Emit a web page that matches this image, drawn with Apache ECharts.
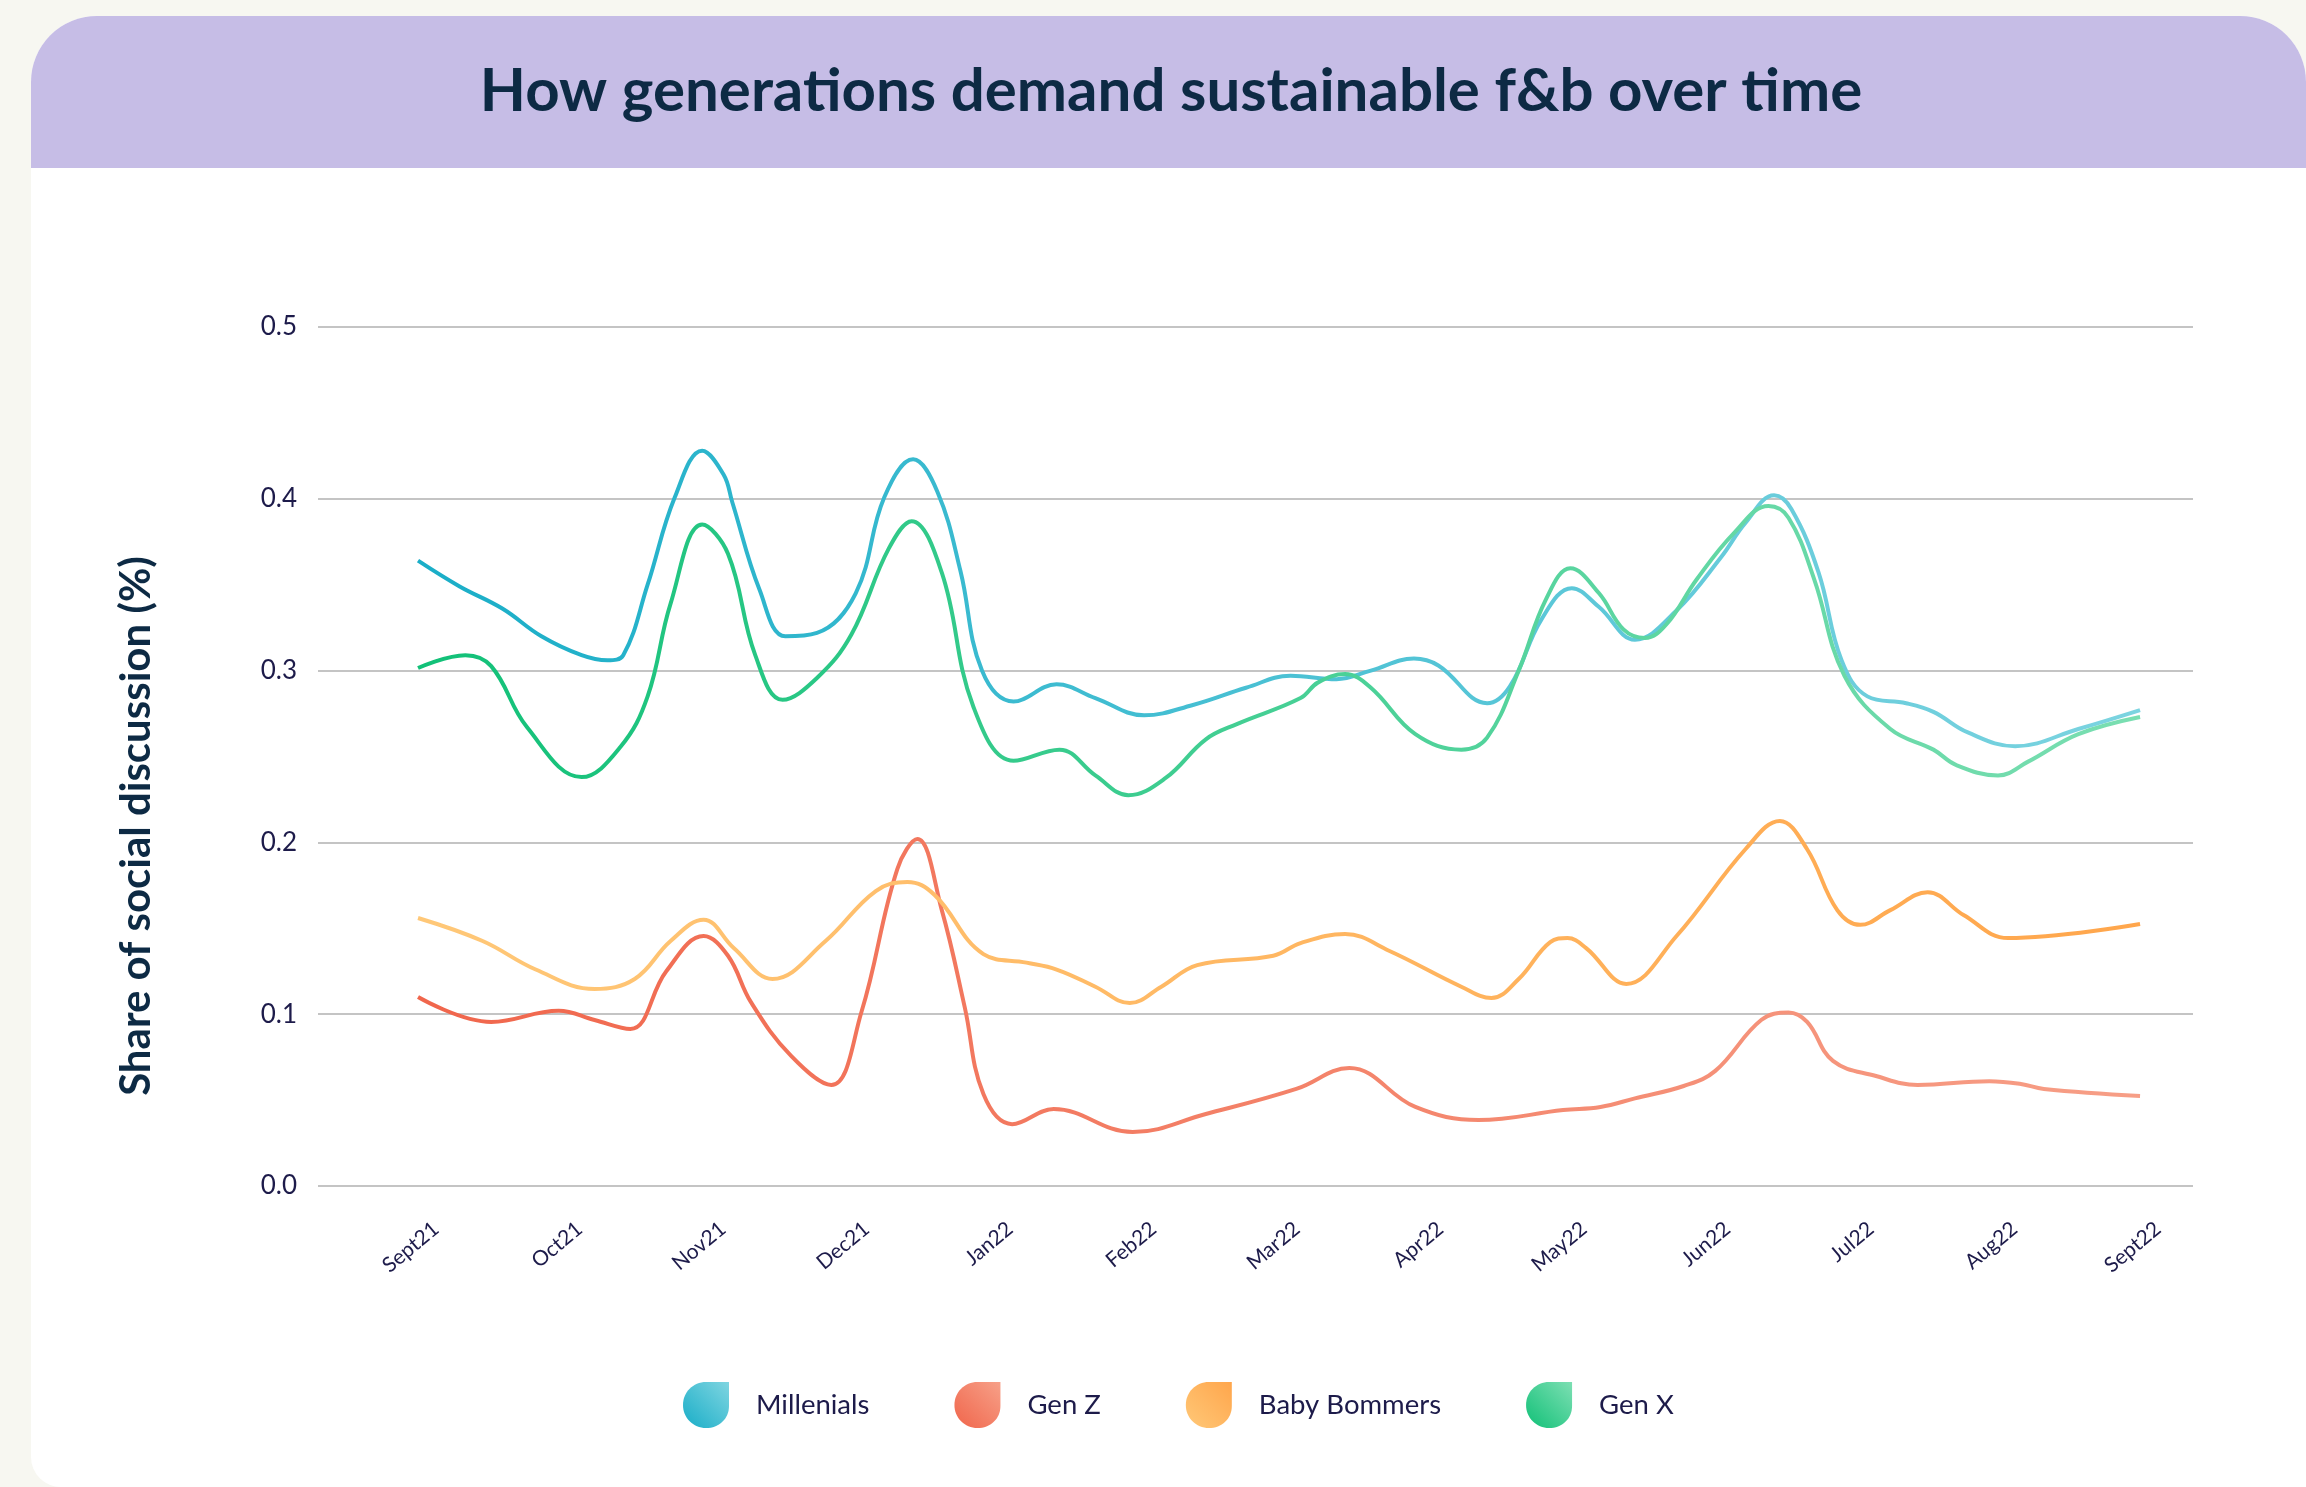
<!DOCTYPE html>
<html>
<head>
<meta charset="utf-8">
<title>How generations demand sustainable f&amp;b over time</title>
<script src="https://cdn.jsdelivr.net/npm/echarts@6/dist/echarts.min.js"></script>
<style>
    html, body { margin: 0; padding: 0; background: #f7f7f1; }
    #chart { width: 2306px; height: 1487px; }
</style>
</head>
<body>
<div id="chart"></div>
<script>
// x position of a point is in months from Sept21 (0) to Sept22 (12)
const months = ['Sept21', 'Oct21', 'Nov21', 'Dec21', 'Jan22', 'Feb22', 'Mar22',
    'Apr22', 'May22', 'Jun22', 'Jul22', 'Aug22', 'Sept22'];
const seriesNames = ['Millenials', 'Gen Z', 'Baby Bommers', 'Gen X'];

const millenials = [[0, 0.364], [0.29, 0.349], [0.59, 0.336], [0.86, 0.320], [1.14, 0.309],
    [1.32, 0.306], [1.43, 0.309], [1.60, 0.350], [1.79, 0.401], [1.98, 0.428], [2.13, 0.414],
    [2.19, 0.398], [2.38, 0.347], [2.56, 0.320], [2.78, 0.322], [3.05, 0.345], [3.25, 0.401],
    [3.45, 0.423], [3.62, 0.404], [3.78, 0.358], [3.93, 0.300], [4.15, 0.282], [4.45, 0.292],
    [4.72, 0.284], [5.06, 0.274], [5.40, 0.280], [5.77, 0.290], [6.08, 0.297], [6.40, 0.295],
    [6.64, 0.300], [6.94, 0.307], [7.11, 0.303], [7.45, 0.281], [7.61, 0.291], [7.83, 0.330],
    [8.04, 0.348], [8.23, 0.337], [8.48, 0.318], [8.77, 0.335], [9.08, 0.366], [9.25, 0.386],
    [9.45, 0.402], [9.57, 0.394], [9.76, 0.357], [9.92, 0.306], [10.10, 0.285], [10.37, 0.281],
    [10.56, 0.276], [10.80, 0.264], [11.13, 0.256], [11.57, 0.266], [12, 0.277]];

const genZ = [[0, 0.110], [0.51, 0.0955], [0.98, 0.102], [1.23, 0.0966], [1.48, 0.0914],
    [1.73, 0.125], [1.99, 0.1455], [2.16, 0.134], [2.32, 0.107], [2.60, 0.0757], [2.88, 0.0588],
    [3.09, 0.1013], [3.34, 0.1845], [3.48, 0.202], [3.65, 0.1606], [3.81, 0.104], [3.94, 0.0535],
    [4.14, 0.036], [4.43, 0.0448], [4.98, 0.0314], [5.49, 0.0419], [6.12, 0.0565], [6.49, 0.0687],
    [6.95, 0.046], [7.39, 0.0384], [7.98, 0.0442], [8.24, 0.046], [8.48, 0.051], [8.82, 0.0582],
    [9.04, 0.067], [9.36, 0.0966], [9.55, 0.101], [9.68, 0.0955], [9.86, 0.0728], [10.16, 0.064],
    [10.45, 0.0588], [10.95, 0.061], [11.17, 0.0594], [11.33, 0.0565], [12, 0.0524]];

const babyBommers = [[0, 0.156], [0.45, 0.1426], [0.82, 0.126], [1.23, 0.1147], [1.51, 0.1205],
    [1.76, 0.1426], [1.99, 0.155], [2.20, 0.1385], [2.47, 0.1205], [2.84, 0.1426], [3.19, 0.1717],
    [3.41, 0.177], [3.60, 0.1694], [3.94, 0.135], [4.24, 0.130], [4.45, 0.126], [4.72, 0.116],
    [4.96, 0.1065], [5.18, 0.116], [5.43, 0.1286], [5.96, 0.134], [6.15, 0.1414], [6.46, 0.1467],
    [6.77, 0.1368], [7.27, 0.116], [7.48, 0.1094], [7.67, 0.1205], [7.89, 0.142], [8.01, 0.1443],
    [8.14, 0.1385], [8.42, 0.1176], [8.77, 0.1455], [9.25, 0.196], [9.49, 0.2125], [9.68, 0.196],
    [9.89, 0.1606], [10.05, 0.152], [10.26, 0.1606], [10.52, 0.171], [10.77, 0.1577],
    [11.08, 0.1443], [12, 0.1525]];

const genX = [[0, 0.3015], [0.33, 0.309], [0.51, 0.3026], [0.76, 0.267], [1.14, 0.238],
    [1.41, 0.2555], [1.60, 0.285], [1.76, 0.339], [1.98, 0.385], [2.16, 0.368], [2.35, 0.309],
    [2.54, 0.283], [2.78, 0.2957], [3.02, 0.321], [3.28, 0.371], [3.44, 0.387], [3.65, 0.357],
    [3.87, 0.279], [4.15, 0.2475], [4.47, 0.254], [4.72, 0.239], [4.95, 0.2275], [5.21, 0.2375],
    [5.49, 0.260], [5.71, 0.269], [6.15, 0.284], [6.27, 0.293], [6.46, 0.298], [6.64, 0.290],
    [6.95, 0.263], [7.27, 0.254], [7.45, 0.261], [7.67, 0.300], [7.86, 0.3415], [8.03, 0.3596],
    [8.23, 0.345], [8.40, 0.324], [8.55, 0.319], [8.70, 0.327], [8.91, 0.353], [9.17, 0.380],
    [9.41, 0.3958], [9.55, 0.389], [9.73, 0.353], [9.94, 0.297], [10.26, 0.266], [10.56, 0.254],
    [10.72, 0.245], [11.01, 0.239], [11.22, 0.247], [11.57, 0.263], [12, 0.273]];

const textColor = '#1d1b4a';
const navy = '#0d2a44';

// bottom-left -> top-right gradient, used for the lines and the legend drops
function grad(c0, c1) {
    return new echarts.graphic.LinearGradient(0, 1, 1, 0, [
        { offset: 0, color: c0 },
        { offset: 1, color: c1 }
    ]);
}

function line(name, data, c0, c1) {
    return {
        name: name,
        type: 'line',
        data: data,
        smooth: 0.4,
        symbol: 'none',
        itemStyle: { color: grad(c0, c1) },
        lineStyle: { width: 4, color: grad(c0, c1) },
        emphasis: { disabled: true }
    };
}

let chart = echarts.init(document.getElementById('chart'));
let option = {
    backgroundColor: '#f7f7f1',
    animation: false,
    graphic: [
        {
            type: 'rect', z: -20,
            shape: { x: 31, y: 16, width: 2275, height: 1471, r: [66, 66, 0, 30] },
            style: { fill: '#ffffff' }
        },
        {
            type: 'rect', z: -19,
            shape: { x: 31, y: 16, width: 2275, height: 152, r: [66, 66, 0, 0] },
            style: { fill: '#c6bde6' }
        },
        {
            type: 'text', x: 1171, y: 92,
            style: {
                text: 'How generations demand sustainable f&b over time',
                font: '700 60px Lato', fill: navy,
                align: 'center', verticalAlign: 'middle'
            }
        },
        {
            type: 'text', x: 136, y: 826, rotation: Math.PI / 2,
            style: {
                text: 'Share of social discussion (%)',
                font: '700 42px Lato', fill: navy,
                align: 'center', verticalAlign: 'middle'
            }
        }
    ],
    legend: {
        data: seriesNames,
        left: 678,
        top: 1377,
        icon: 'path://M100,0 L100,52 C100,80 78,100 50,100 C22,100 0,78 0,50 C0,22 22,0 50,0 Z',
        itemWidth: 46,
        itemHeight: 48,
        itemGap: 85,
        itemStyle: { borderWidth: 0 },
        selectedMode: false,
        textStyle: { fontFamily: 'Lato', fontSize: 27.5, color: textColor, padding: [0, 0, 0, 22] }
    },
    grid: [
        { left: 318, right: 113, top: 327, bottom: 301 },
        // only carries the month labels, sits a little right of the data
        { left: 436, right: 148, top: 327, bottom: 301 }
    ],
    xAxis: [
        {
            type: 'value', gridIndex: 0,
            min: -0.697, max: 12.369,
            axisLine: { show: false }, axisTick: { show: false },
            axisLabel: { show: false }, splitLine: { show: false }
        },
        {
            type: 'value', gridIndex: 1,
            min: 0, max: 12, interval: 1,
            axisLine: { show: false }, axisTick: { show: false }, splitLine: { show: false },
            axisLabel: {
                rotate: 40, margin: 40,
                fontFamily: 'Lato', fontSize: 21, color: textColor,
                showMinLabel: true, showMaxLabel: true,
                formatter: function (v) { return months[v]; }
            }
        }
    ],
    yAxis: [
        {
            type: 'value', gridIndex: 0,
            min: 0, max: 0.5, interval: 0.1,
            axisLine: { show: false }, axisTick: { show: false },
            axisLabel: {
                margin: 21, fontFamily: 'Lato', fontSize: 26, color: textColor,
                formatter: function (v) { return v.toFixed(1); }
            },
            splitLine: { lineStyle: { color: '#c4c4c4', width: 2 } }
        },
        { type: 'value', gridIndex: 1, show: false }
    ],
    series: [
        line('Millenials', millenials, '#18adc7', '#7fd5e1'),
        line('Gen Z', genZ, '#f0654b', '#f7a088'),
        line('Baby Bommers', babyBommers, '#ffc878', '#ffa64c'),
        line('Gen X', genX, '#10c077', '#7ddfb3')
    ]
};
chart.setOption(option);
window.onresize = chart.resize;
</script>
</body>
</html>
